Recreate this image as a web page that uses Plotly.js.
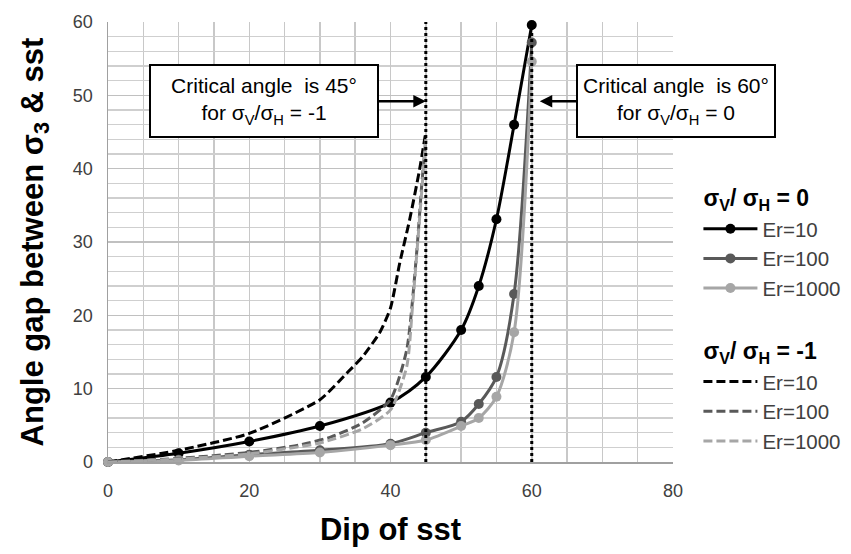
<!DOCTYPE html>
<html>
<head>
<meta charset="utf-8">
<script src="https://cdn.plot.ly/plotly-3.0.1.min.js"></script>
<style>html,body{margin:0;padding:0;background:#fff;}#chart{width:851px;height:554px;}</style>
</head>
<body>
<div id="chart"></div>
<script>
// sigmaV/sigmaH = 0 (solid, with markers)
const dip0 = [0, 10, 20, 30, 40, 45, 50, 52.5, 55, 57.5, 60];
const er10_r0 = [0, 1.2, 2.8, 4.9, 8.1, 11.6, 18.0, 24.0, 33.1, 46.0, 59.6];
const er100_r0 = [0, 0.3, 1.0, 1.6, 2.5, 4.0, 5.5, 7.9, 11.6, 22.9, 57.2];
const er1000_r0 = [0, 0.2, 0.8, 1.3, 2.3, 3.0, 4.9, 6.0, 8.9, 17.7, 54.6];

// sigmaV/sigmaH = -1 (dashed)
const dipM10 = [0, 10, 20, 30, 34, 36, 38.5, 40, 41.3, 42.7, 44.1, 45];
const er10_rm1 = [0, 1.6, 3.9, 8.5, 12.3, 14.3, 17.7, 21, 27.1, 33, 39.8, 45];
const dipM100 = [0, 10, 20, 27, 31.5, 36, 40, 42.3, 43.7, 44.4, 45];
const er100_rm1 = [0, 0.5, 1.3, 2.3, 3.4, 5.3, 8.5, 15.3, 28.5, 37.5, 44];
const dipM1000 = [0, 10, 20, 30, 36, 40, 42.3, 43.1, 44.1, 45];
const er1000_rm1 = [0, 0.4, 1.1, 2.6, 4.5, 7.1, 13, 21, 33, 44];

const seriesNames = ['Er=10', 'Er=100', 'Er=1000'];
const groupTitles = ['σ<sub>V</sub>/ σ<sub>H</sub> = 0', 'σ<sub>V</sub>/ σ<sub>H</sub> = -1'];
const criticalAngles = [45, 60];
const annotationTexts = [
  'Critical angle  is 45°<br>for σ<sub>V</sub>/σ<sub>H</sub> = -1',
  'Critical angle  is 60°<br>for σ<sub>V</sub>/σ<sub>H</sub> = 0'
];
const xTicks = [0, 20, 40, 60, 80];
const yTicks = [0, 10, 20, 30, 40, 50, 60];

const colors = ['#000000', '#595959', '#a6a6a6'];
const FONT = 'Liberation Sans, Arial, sans-serif';

const solidY = [er10_r0, er100_r0, er1000_r0];
const dashX = [dipM10, dipM100, dipM1000];
const dashY = [er10_rm1, er100_rm1, er1000_rm1];

const traces = [];
solidY.forEach((ys, i) => {
  traces.push({
    x: dip0, y: ys, type: 'scatter', mode: 'lines+markers',
    name: seriesNames[i], legendgroup: 'g0',
    legendgrouptitle: {text: groupTitles[0], font: {size: 23, color: '#000', weight: 'bold', family: FONT}},
    line: {color: colors[i], width: 3, shape: 'spline', smoothing: 0.8},
    marker: {color: colors[i], size: 10},
    cliponaxis: false
  });
});
dashY.forEach((ys, i) => {
  traces.push({
    x: dashX[i], y: ys, type: 'scatter', mode: 'lines',
    name: seriesNames[i], legendgroup: 'g1',
    legendgrouptitle: {text: groupTitles[1], font: {size: 23, color: '#000', weight: 'bold', family: FONT}},
    line: {color: colors[i], width: 3, dash: '9px,4px', shape: 'spline', smoothing: 0.6},
    cliponaxis: false
  });
});

const shapes = criticalAngles.map(a => ({
  type: 'line', xref: 'x', yref: 'y', x0: a, x1: a, y0: 0, y1: 60,
  line: {color: '#000', width: 3, dash: 'dot'}, layer: 'above'
}));

const annotations = [
  {x: 45, y: 49.2, xref: 'x', yref: 'y', text: annotationTexts[0],
   showarrow: true, ax: -162, ay: 0, axref: 'pixel', ayref: 'pixel',
   arrowhead: 2, arrowsize: 1, arrowwidth: 2.5, arrowcolor: '#000', standoff: 0,
   bgcolor: '#fff', bordercolor: '#000', borderwidth: 2, borderpad: 4,
   width: 218, height: 62, font: {family: FONT, size: 21, color: '#000'}, align: 'center'},
  {x: 60, y: 49.2, xref: 'x', yref: 'y', text: annotationTexts[1],
   showarrow: true, ax: 144, ay: 0, axref: 'pixel', ayref: 'pixel',
   arrowhead: 2, arrowsize: 1, arrowwidth: 2.5, arrowcolor: '#000', standoff: 8,
   bgcolor: '#fff', bordercolor: '#000', borderwidth: 2, borderpad: 4,
   width: 188, height: 62, font: {family: FONT, size: 21, color: '#000'}, align: 'center'}
];

const layout = {
  width: 851, height: 554,
  margin: {l: 108, r: 178, t: 22, b: 92, autoexpand: false},
  paper_bgcolor: '#fff', plot_bgcolor: '#fff',
  font: {family: FONT, color: '#404040'},
  showlegend: true,
  xaxis: {
    range: [0, 80], tickvals: xTicks, ticks: '', showline: true, linecolor: '#a0a0a0', linewidth: 1.5,
    showgrid: true, gridcolor: '#c8c8c8', gridwidth: 1.5, zeroline: false,
    minor: {dtick: 5, showgrid: true, gridcolor: '#c8c8c8', gridwidth: 1.5},
    tickfont: {size: 18, color: '#404040', family: FONT},
    ticklabelstandoff: 12,
    title: {text: '<b>Dip of sst</b>', font: {size: 31, color: '#000', family: FONT}, standoff: 18}
  },
  yaxis: {
    range: [0, 60], tickvals: yTicks, ticks: '', showline: true, linecolor: '#a0a0a0', linewidth: 1.5,
    showgrid: true, gridcolor: '#c0c0c0', gridwidth: 1.5, zeroline: false,
    minor: {dtick: 2, showgrid: true, gridcolor: '#cfcfcf', gridwidth: 1.5},
    tickfont: {size: 18, color: '#404040', family: FONT},
    ticklabelstandoff: 10,
    title: {text: '<b>Angle gap between σ<sub>3</sub> & sst</b>', font: {size: 31, color: '#000', family: FONT}, standoff: 20}
  },
  legend: {
    x: 1.045, xanchor: 'left', y: 0.65, yanchor: 'top',
    traceorder: 'grouped', tracegroupgap: 31, itemwidth: 54,
    font: {size: 20.5, color: '#404040', family: FONT},
    bgcolor: 'rgba(0,0,0,0)', borderwidth: 0
  },
  shapes: shapes,
  annotations: annotations
};

Plotly.newPlot('chart', traces, layout, {displayModeBar: false, staticPlot: true});
</script>
</body>
</html>
